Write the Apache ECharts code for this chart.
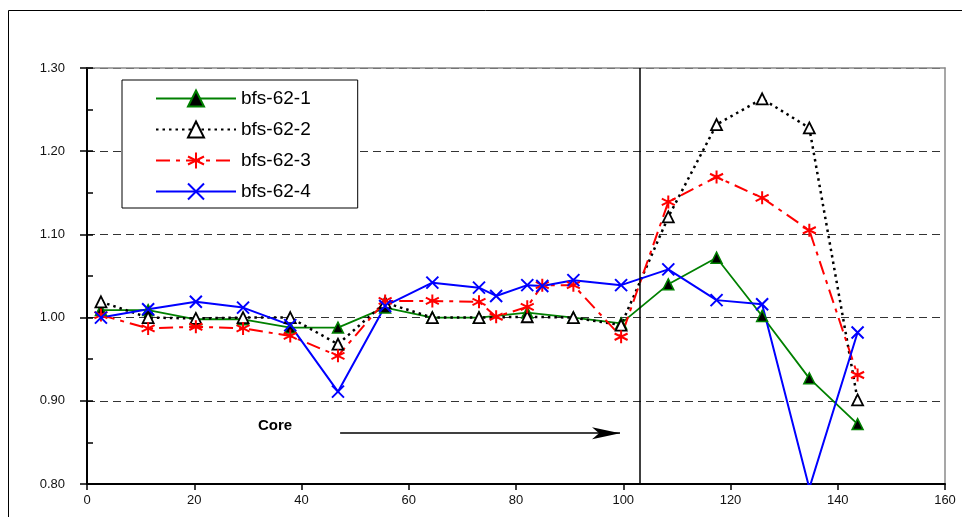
<!DOCTYPE html>
<html>
<head>
<meta charset="utf-8">
<script src="https://cdn.jsdelivr.net/npm/echarts@6/dist/echarts.min.js"></script>
<style>html,body{margin:0;padding:0;background:#fff;}#c{width:962px;height:517px;}</style>
</head>
<body>
<div id="c"></div>
<script>
// Data
const seriesNames = ['bfs-62-1', 'bfs-62-2', 'bfs-62-3', 'bfs-62-4'];
const xPos17 = [2.6, 11.4, 20.3, 29.1, 37.9, 46.8, 55.6, 64.4, 73.1, 82.1, 90.7, 99.6, 108.4, 117.4, 125.9, 134.7, 143.7];
const xPos19 = [2.6, 11.4, 20.3, 29.1, 37.9, 46.8, 55.6, 64.4, 73.1, 76.3, 82.1, 84.9, 90.7, 99.6, 108.4, 117.4, 125.9, 134.7, 143.7];
const bfs1 = [1.009, 1.009, 0.998, 0.998, 0.988, 0.988, 1.012, 1.000, 1.000, 1.006, 1.000, 0.993, 1.040, 1.072, 1.002, 0.927, 0.872];
const bfs2 = [1.019, 1.000, 0.999, 1.000, 1.000, 0.968, 1.018, 1.000, 1.000, 1.001, 1.000, 0.991, 1.121, 1.232, 1.263, 1.228, 0.901];
const bfs3 = [1.003, 0.987, 0.989, 0.987, 0.978, 0.954, 1.020, 1.020, 1.019, 1.001, 1.013, 1.039, 1.039, 0.977, 1.139, 1.169, 1.144, 1.105, 0.931];
const bfs4 = [1.000, 1.010, 1.019, 1.012, 0.991, 0.911, 1.014, 1.042, 1.036, 1.026, 1.039, 1.038, 1.045, 1.039, 1.058, 1.021, 1.016, 0.795, 0.982];
const coreBoundaryX = 103;
const arrowStart = [47.2, 0.861];
const arrowEnd = [99.4, 0.861];
const annotationText = 'Core';
const yMin = 0.8, yMax = 1.3, yStep = 0.1;
const xMin = 0, xMax = 160, xStep = 20;

const pair = (xs, ys) => xs.map((x, i) => [x, ys[i]]);
const FONT = 'Liberation Sans, Arial, sans-serif';
const STAR = 'path://M5,0L5,10M0.7,2.5L9.3,7.5M0.7,7.5L9.3,2.5';
const CROSS = 'path://M0,0L10,10M0,10L10,0';

const chart = echarts.init(document.getElementById('c'), null, {renderer: 'canvas'});
chart.setOption({
  animation: false,
  backgroundColor: '#fff',
  textStyle: {fontFamily: FONT},
  graphic: [
    {type: 'rect', left: 6, top: 8, shape: {width: 990, height: 530}, style: {fill: 'none', stroke: '#000', lineWidth: 1}, silent: true, z: -10},
    {type: 'text', left: 258, top: 418, style: {text: annotationText, font: 'bold 15px ' + FONT, fill: '#000'}, silent: true}
  ],
  grid: {left: 87, right: 17, top: 68, bottom: 33, show: false},
  legend: {
    left: 122, top: 80,
    orient: 'vertical',
    backgroundColor: '#fff',
    borderColor: '#000', borderWidth: 1,
    padding: [9, 47, 7, 33],
    itemWidth: 80, itemHeight: 20, itemGap: 12,
    textStyle: {fontSize: 19, color: '#000', fontFamily: FONT},
    data: seriesNames
  },
  xAxis: [
    {type: 'value', min: xMin, max: xMax, interval: xStep, position: 'bottom',
     axisLine: {show: true, onZero: false, lineStyle: {color: '#000', width: 2}},
     axisTick: {show: true, length: 6, lineStyle: {color: '#000', width: 1.5}},
     axisLabel: {fontSize: 13, color: '#111', margin: 10, fontFamily: FONT},
     splitLine: {show: false}},
    {type: 'value', min: xMin, max: xMax, position: 'top',
     axisLine: {show: true, onZero: false, lineStyle: {color: '#8a8a8a', width: 1.5}},
     axisTick: {show: false}, axisLabel: {show: false}, splitLine: {show: false}}
  ],
  yAxis: [
    {type: 'value', min: yMin, max: yMax, interval: yStep, position: 'left',
     axisLine: {show: true, onZero: false, lineStyle: {color: '#000', width: 2}},
     axisTick: {show: true, length: 7, lineStyle: {color: '#000', width: 1.5}},
     axisLabel: {fontSize: 13, color: '#111', margin: 22, fontFamily: FONT, formatter: v => v.toFixed(2)},
     splitLine: {show: true, lineStyle: {color: '#333', width: 1, type: [8, 5]}}},
    {type: 'value', min: yMin, max: yMax, interval: yStep, position: 'left',
     axisLine: {show: false},
     axisTick: {show: true, inside: true, length: 6, lineStyle: {color: '#000', width: 1.5}},
     minorTick: {show: true, splitNumber: 2, length: 6, lineStyle: {color: '#000', width: 1.5}},
     axisLabel: {show: false}, splitLine: {show: false}},
    {type: 'value', min: yMin, max: yMax, position: 'right',
     axisLine: {show: true, onZero: false, lineStyle: {color: '#8a8a8a', width: 1.5}},
     axisTick: {show: false}, axisLabel: {show: false}, splitLine: {show: false}}
  ],
  series: [
    {name: seriesNames[0], type: 'line', data: pair(xPos17, bfs1),
     symbol: 'triangle', symbolSize: 11,
     itemStyle: {color: '#000', borderColor: '#008000', borderWidth: 1.5},
     lineStyle: {color: '#008000', width: 1.8},
     markLine: {
       silent: true, animation: false, symbol: ['none', 'none'], label: {show: false},
       lineStyle: {color: '#000', width: 1.5, type: 'solid'},
       emphasis: {disabled: true},
       data: [
         {xAxis: coreBoundaryX, symbol: 'none'},
         [{coord: arrowStart, symbol: 'none'}, {coord: arrowEnd, symbol: 'arrow', symbolSize: [9, 28]}]
       ]
     }},
    {name: seriesNames[1], type: 'line', data: pair(xPos17, bfs2),
     symbol: 'triangle', symbolSize: 11,
     itemStyle: {color: '#fff', borderColor: '#000', borderWidth: 1.8},
     lineStyle: {color: '#000', width: 2.5, type: [2.5, 4]}},
    {name: seriesNames[2], type: 'line', data: pair(xPos19, bfs3),
     symbol: STAR, symbolSize: 13,
     itemStyle: {color: '#ff0000', borderColor: '#ff0000', borderWidth: 2},
     lineStyle: {color: '#ff0000', width: 2, type: [14, 6, 4, 6]}},
    {name: seriesNames[3], type: 'line', data: pair(xPos19, bfs4),
     symbol: CROSS, symbolSize: 12,
     itemStyle: {color: '#0000ff', borderColor: '#0000ff', borderWidth: 2},
     lineStyle: {color: '#0000ff', width: 2}}
  ]
});
</script>
</body>
</html>
